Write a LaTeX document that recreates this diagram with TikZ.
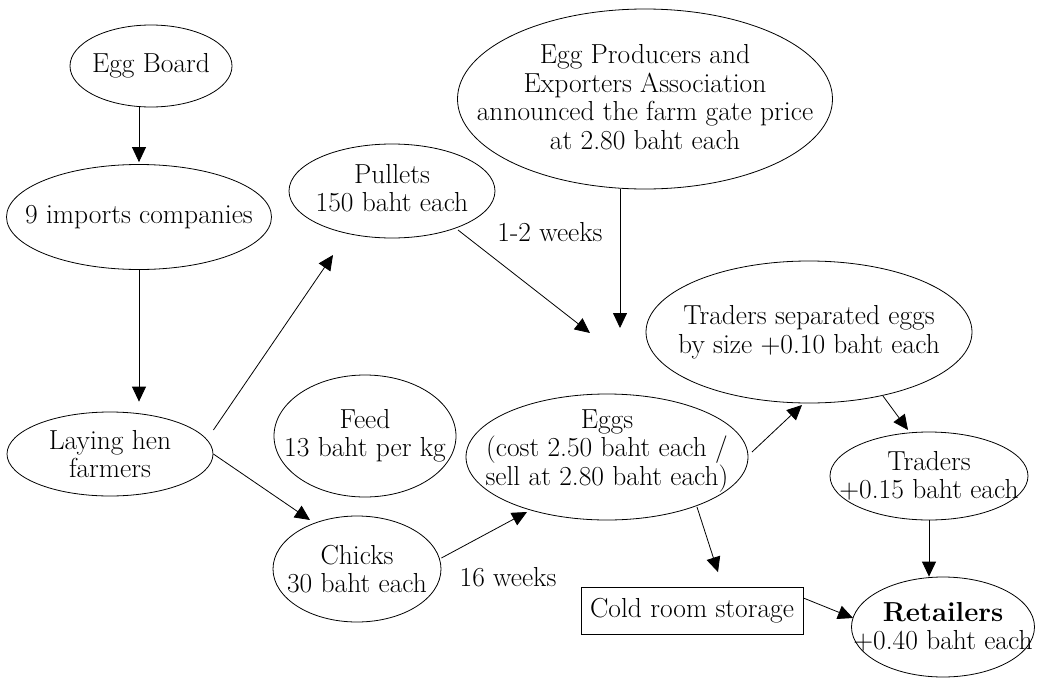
\documentclass[tikz,border=0pt]{standalone}
\usetikzlibrary{shapes.geometric,arrows.meta}
\begin{document}
\begin{tikzpicture}[x=1pt,y=-1pt,
  every node/.style={font=\fontsize{27.5}{28.5}\selectfont, text=black},
  ell/.style={ellipse,draw,line width=0.8pt,inner sep=0pt},
  txt/.style={align=center,inner sep=0pt},
  arr/.style={line width=0.8pt,-{Triangle[length=15pt,width=14pt]}}]
\useasboundingbox (0,0) rectangle (1037,683);

% ellipse shapes
\node[ell,minimum width=162pt,minimum height=82pt] (eb) at (151,66) {};
\node[ell,minimum width=265pt,minimum height=105pt] (imp) at (139,217) {};
\node[ell,minimum width=206pt,minimum height=94pt] (pul) at (392,191) {};
\node[ell,minimum width=375pt,minimum height=180pt] (assoc) at (645,99) {};
\node[ell,minimum width=206pt,minimum height=84pt] (lay) at (110,454) {};
\node[ell,minimum width=182pt,minimum height=122pt] (feed) at (365,436) {};
\node[ell,minimum width=168pt,minimum height=106pt] (chicks) at (357,569) {};
\node[ell,minimum width=282pt,minimum height=126pt] (eggs) at (607,457) {};
\node[ell,minimum width=326pt,minimum height=142pt] (tse) at (809,332) {};
\node[ell,minimum width=198pt,minimum height=88pt] (trd) at (929,476) {};
\node[ell,minimum width=183pt,minimum height=100pt] (ret) at (943,627) {};
\node[draw,line width=0.8pt,minimum width=222pt,minimum height=47pt,inner sep=0pt] (cold) at (692,611) {Cold room storage};

% texts
\node[txt] (ebt) at (eb) {Egg Board};
\node[txt] (impt) at (imp) {9 imports companies};
\node[txt] (pult) at ([yshift=3pt]pul.center) {Pullets\\150 baht each};
\node[txt] (assoct) at ([yshift=2pt]assoc.center) {Egg Producers and\\Exporters Association\\announced the farm gate price\\at 2.80 baht each};
\node[txt] (layt) at (lay) {Laying hen\\farmers};
\node[txt] (feedt) at (feed) {Feed\\13 baht per kg};
\node[txt] (chickst) at (chicks) {Chicks\\30 baht each};
\node[txt] (eggst) at ([yshift=6pt]eggs.center) {Eggs\\(cost 2.50 baht each /\\sell at 2.80 baht each)};
\node[txt] (tset) at (tse) {Traders separated eggs\\by size +0.10 baht each};
\node[txt] (trdt) at (trd) {Traders\\+0.15 baht each};
\node[txt] (rett) at (ret) {\textbf{Retailers}\\+0.40 baht each};
\node[txt] (w12) at (550,232) {1-2 weeks};
\node[txt] (w16) at (508,577) {16 weeks};

\coordinate (p1) at (590,333);
\coordinate (p2) at (620,328);

% connectors
\draw[arr] ([xshift=-12pt]eb.south) -- ([yshift=2pt]imp.north);
\draw[arr] (imp.south) -- ([xshift=29pt,yshift=10pt]lay.north);
\draw[arr] ([yshift=24pt]lay.east) -- ([xshift=-59pt,yshift=-64pt]pul.center);
\draw[arr] (lay.east) -- ([xshift=-47pt,yshift=49pt]chicks.center);
\draw[arr] ([yshift=11pt]chicks.east) -- ([xshift=-80pt,yshift=-55pt]eggs.center);
\draw[arr] ([xshift=66pt,yshift=-39pt]pul.center) -- (p1);
\draw[arr] ([xshift=-25pt]assoc.south) -- (p2);
\draw[arr] ([xshift=145pt,yshift=5pt]eggs.center) -- ([xshift=-7pt,yshift=-73pt]tse.center);
\draw[arr] ([xshift=74pt,yshift=-64pt]tse.center) -- ([xshift=-21pt,yshift=46pt]trd.center);
\draw[arr] (trd.south) -- ([xshift=-14pt]ret.north);
\draw[arr] ([xshift=90pt,yshift=-50pt]eggs.center) -- ([xshift=26pt,yshift=15pt]cold.north);
\draw[arr] ([yshift=13pt]cold.east) -- ([xshift=-90pt,yshift=9pt]ret.center);
\end{tikzpicture}
\end{document}
